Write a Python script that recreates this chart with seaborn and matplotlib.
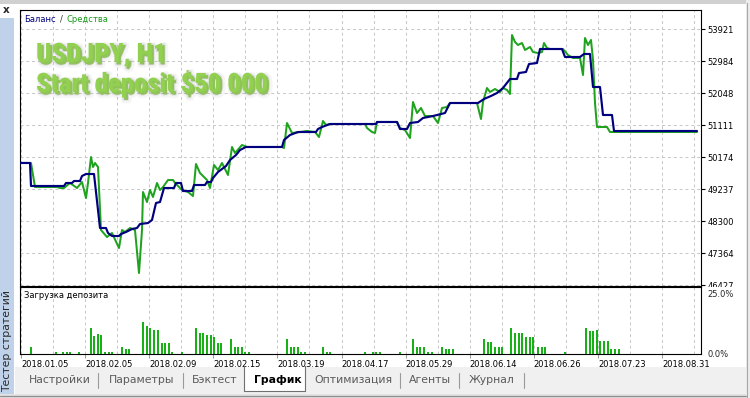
import numpy as np
import pandas as pd
import matplotlib
matplotlib.use("Agg")
import matplotlib.pyplot as plt
import seaborn as sns
from matplotlib import patheffects as pe
from matplotlib.patches import Rectangle
from matplotlib.lines import Line2D
from matplotlib.transforms import Bbox, TransformedBbox
from matplotlib import font_manager

# ---------------- data (time index = bar position on the tester's time axis) ----------------
balance_t = [0, 10, 11, 44, 46, 52, 54, 60, 62, 66,
             74, 80, 86, 88, 92, 99, 101, 106, 112, 117,
             120, 128, 132, 136, 140, 144, 154, 156, 161, 163,
             172, 174, 185, 187, 191, 193, 198, 206, 210, 216,
             220, 226, 262, 264, 270, 278, 296, 298, 302, 310,
             356, 357, 377, 380, 387, 390, 398, 403, 413, 425,
             430, 458, 464, 471, 477, 483, 490, 497, 499, 506,
             509, 517, 520, 542, 545, 560, 564, 570, 573, 580,
             583, 592, 594, 677]
balance = [50000, 50000, 49326, 49326, 49414, 49414, 49472, 49472, 49619, 49677,
           49677, 48096, 48096, 47950, 47862, 47862, 47920, 47979, 48067, 48096,
           48213, 48242, 48330, 48828, 48857, 49267, 49267, 49414, 49414, 49179,
           49179, 49355, 49355, 49443, 49443, 49560, 49736, 49911, 50087, 50233,
           50380, 50468, 50468, 50673, 50819, 50907, 50907, 50995, 51053, 51141,
           51141, 51200, 51200, 50995, 50995, 51170, 51200, 51317, 51375, 51463,
           51756, 51756, 51873, 51961, 52049, 52195, 52459, 52459, 52634, 52664,
           52898, 52927, 53337, 53337, 53103, 53103, 53191, 53191, 52224, 52224,
           51405, 51405, 50936, 50936]

equity_t = [0, 11, 15, 37, 40, 44, 50, 57, 62, 66,
            68, 71, 73, 75, 78, 81, 87, 92, 99, 102,
            105, 110, 115, 119, 122, 123, 127, 130, 133, 137,
            140, 143, 148, 153, 155, 162, 168, 173, 176, 180,
            187, 190, 194, 198, 202, 208, 212, 215, 222, 227,
            262, 264, 267, 272, 280, 287, 295, 299, 303, 306,
            310, 345, 347, 352, 355, 357, 377, 380, 385, 390,
            393, 397, 401, 405, 413, 418, 422, 427, 430, 457,
            461, 463, 467, 470, 475, 480, 483, 487, 490, 492,
            495, 498, 502, 505, 510, 513, 518, 522, 524, 527,
            530, 543, 548, 553, 560, 563, 565, 568, 571, 573,
            575, 577, 587, 590, 677]
equity = [50000, 50000, 49296, 49296, 49267, 49267, 49414, 49267, 49443, 48974,
          49414, 50175, 49882, 49999, 49882, 48037, 47832, 47950, 47510, 48037,
          47979, 48096, 48037, 46778, 48037, 49150, 48857, 49209, 49004, 49414,
          49209, 49296, 49501, 49501, 49414, 49209, 49150, 49033, 49970, 49706,
          49501, 49267, 49941, 49794, 49999, 49648, 50468, 50292, 50526, 50468,
          50468, 50438, 51170, 50878, 50907, 50936, 50907, 50760, 51229, 51112,
          51141, 51141, 51024, 50907, 50878, 51200, 51200, 51024, 50965, 50731,
          51785, 51463, 51610, 51375, 51375, 51170, 51610, 51639, 51756, 51756,
          51287, 51785, 52195, 52078, 52166, 52078, 52195, 52137, 52019, 53747,
          53542, 53454, 53513, 53308, 53396, 53249, 53220, 53249, 53513, 53366,
          53337, 53337, 53161, 53074, 53074, 52576, 53659, 53454, 53601, 53015,
          51756, 51053, 51053, 50907, 50907]

load_t = [11, 36, 43, 47, 50, 59, 71, 74, 77.5, 80.5,
          85, 88.5, 92, 102, 105.5, 109, 123, 126.5, 130, 133.5,
          138, 141.5, 145, 148.5, 152, 162, 176, 179.5, 183, 186.5,
          190.5, 194, 197.5, 201, 211, 214.5, 218, 221.5, 225, 229,
          267, 270.5, 274, 277.5, 281, 285, 303, 306.5, 310, 345,
          352.5, 356, 359.5, 380, 393, 396.5, 400, 404, 408, 412,
          422, 425.5, 429, 433, 464, 467.5, 471, 475, 478.5, 482,
          491, 494.5, 498.5, 502, 505.5, 509.5, 513, 518, 521.5, 525,
          545, 566, 569.5, 573, 576.5, 580, 584, 587.5, 591, 595,
          598.5]
load_pct = [2.8, 0.9, 0.9, 0.9, 0.9, 0.9, 9.7, 6.9, 7.7, 7.2,
            0.9, 0.9, 0.9, 2.8, 2.0, 2.0, 12.2, 10.5, 10.0, 9.2,
            9.2, 4.1, 4.1, 4.1, 0.9, 0.9, 9.7, 7.8, 7.8, 7.1,
            7.1, 6.6, 4.1, 4.1, 5.8, 2.8, 2.8, 2.8, 0.9, 0.9,
            5.8, 2.8, 2.8, 2.8, 0.9, 0.9, 2.8, 0.9, 0.9, 0.9,
            0.9, 0.9, 0.9, 0.9, 5.8, 2.8, 2.8, 2.8, 0.9, 0.9,
            2.8, 2.0, 2.0, 2.0, 5.8, 4.7, 4.7, 2.8, 2.8, 2.8,
            9.7, 7.8, 7.8, 7.8, 6.6, 6.6, 6.6, 2.8, 2.8, 2.8,
            0.9, 9.7, 8.8, 8.8, 9.0, 5.0, 5.0, 5.0, 2.0, 2.0,
            2.0]

y_tick_values = [46427, 47364, 48300, 49237, 50174, 51111, 52048, 52984, 53921]
load_tick_labels = ["0.0%", "25.0%"]
date_labels = ["2018.01.05", "2018.02.05", "2018.02.09", "2018.02.15", "2018.03.19",
               "2018.04.17", "2018.05.29", "2018.06.14", "2018.06.26", "2018.07.23",
               "2018.08.31"]
tab_labels = ["Настройки", "Параметры", "Бэктест", "График", "Оптимизация", "Агенты", "Журнал"]
legend_parts = ["Баланс", "/", "Средства"]

assert len(balance_t) == len(balance)
assert len(equity_t) == len(equity)
assert len(load_t) == len(load_pct)

# ---------------- style ----------------
BAL_COLOR = "#00007f"
EQ_COLOR = "#1fa31f"
BAR_COLOR = "#17b017"
GRID_COLOR = "#c6c6c6"
SMALL = 6.0
W, H = 750, 398

sns.set_style("white")
plt.rcParams["font.family"] = ["DejaVu Sans"]

fig = plt.figure(figsize=(W / 100, H / 100), dpi=100)
fig.patch.set_facecolor("white")


def fx(x):
    return x / W


def fy(y):
    return 1 - y / H


# ---------------- window chrome ----------------
def frect(x0, y0, x1, y1, **kw):
    fig.patches.append(Rectangle((fx(x0), fy(y1)), fx(x1) - fx(x0), fy(y0) - fy(y1),
                                 transform=fig.transFigure, **kw))


def fline(x0, y0, x1, y1, **kw):
    fig.lines.append(Line2D([fx(x0), fx(x1)], [fy(y0), fy(y1)], transform=fig.transFigure, **kw))


frect(0, 0, W, 3.5, facecolor="#d0d0d0", edgecolor="none", zorder=-2)
frect(746, 0, W, H, facecolor="#ececec", edgecolor="none", zorder=-2)
fline(746.5, 3, 746.5, H, color="#a8a8a8", lw=0.8, zorder=-1)
frect(0, 18, 14, 396, facecolor="#bfd2ea", edgecolor="none", zorder=-2)
fig.text(fx(6), fy(10), "x", fontsize=7.5, fontweight="bold", ha="center", va="center")
fig.text(fx(7.5), fy(341), "Тестер стратегий", rotation=90, fontsize=7.8,
         color="#2a2a2a", ha="center", va="center")

# tab bar
frect(15, 367, 746, 394, facecolor="#f0f0f0", edgecolor="none", zorder=-2)
frect(0, 394, 746, H, facecolor="#e2e2e2", edgecolor="none", zorder=-2)
fline(0, 395.5, 746, 395.5, color="#8e8e8e", lw=0.9, zorder=-1)
frect(244, 366, 305, 391, facecolor="white", edgecolor="none", zorder=-1)
fline(244, 366, 244, 391, color="#707070", lw=0.8)
fline(305, 366, 305, 391, color="#707070", lw=0.8)
fline(244, 391, 305, 391, color="#707070", lw=0.8)
for sx in [98, 183, 400, 459, 524]:
    fline(sx, 373, sx, 388, color="#9a9a9a", lw=0.8)
tab_x = [29, 109, 192, 254, 314, 409, 469]
for lbl, tx in zip(tab_labels, tab_x):
    sel = lbl == "График"
    fig.text(fx(tx), fy(380), lbl, fontsize=7.8, ha="left", va="center",
             color="black" if sel else "#5a5a5a", fontweight="bold" if sel else "normal")

# ---------------- axes ----------------
ax = fig.add_axes([fx(20), fy(286), fx(701) - fx(20), fy(10) - fy(286)])
ax2 = fig.add_axes([fx(20), fy(354), fx(701) - fx(20), fy(287) - fy(354)])
for a in (ax, ax2):
    a.set_facecolor("white")
    for s in a.spines.values():
        s.set_color("black")
        s.set_linewidth(0.8)
        s.set_visible(True)

grid_t = [1 + 32.05 * k for k in range(22)]

eq_df = pd.DataFrame({"t": equity_t, "v": equity})
bal_df = pd.DataFrame({"t": balance_t, "v": balance})
sns.lineplot(data=eq_df, x="t", y="v", ax=ax, color=EQ_COLOR, linewidth=1.45,
             estimator=None, sort=False, zorder=3)
sns.lineplot(data=bal_df, x="t", y="v", ax=ax, color=BAL_COLOR, linewidth=1.55,
             estimator=None, sort=False, zorder=4)

ax.set_xlim(0, 681)
ax.set_ylim(46398, 54479)
ax.set_xlabel("")
ax.set_ylabel("")
ax.set_xticks(grid_t)
ax.tick_params(axis="x", length=0, labelbottom=False, bottom=False)
ax.set_yticks(y_tick_values)
ax.set_yticklabels([str(v) for v in y_tick_values])
ax.yaxis.tick_right()
ax.tick_params(axis="y", length=3, width=0.8, pad=1.5, labelsize=SMALL, colors="black",
               direction="out", left=False, right=True, labelleft=False, labelright=True)
ax.grid(True, which="major", color=GRID_COLOR, linestyle=(0, (3, 3)), linewidth=0.7)
ax.set_axisbelow(True)

# deposit load bars
load_df = pd.DataFrame({"t": load_t, "p": load_pct})
min_gap = float(np.min(np.diff(np.sort(np.array(load_t)))))
sns.barplot(data=load_df, x="t", y="p", native_scale=True, width=2.0 / min_gap,
            color=BAR_COLOR, saturation=1, errorbar=None, ax=ax2, linewidth=0, zorder=3)
ax2.set_xlim(0, 681)
ax2.set_ylim(0, 25.3)
ax2.set_xlabel("")
ax2.set_ylabel("")
ax2.set_xticks(grid_t[0::2])
ax2.set_xticks(grid_t[1::2], minor=True)
ax2.set_xticklabels(date_labels, ha="left")
ax2.tick_params(axis="x", which="major", length=3, width=0.7, pad=1.5, labelsize=SMALL,
                bottom=True, direction="out", color="#9a9a9a", labelcolor="black")
ax2.tick_params(axis="x", which="minor", length=0, bottom=False)
ax2.set_yticks([])
ax2.grid(True, axis="x", which="both", color=GRID_COLOR, linestyle=(0, (3, 3)), linewidth=0.7)
ax2.grid(False, axis="y")
ax2.set_axisbelow(True)
# load scale labels (MetaTrader draws the top one just below the frame edge)
fig.text(fx(707), fy(294.5), load_tick_labels[1], fontsize=SMALL, ha="left", va="center")
fig.text(fx(707), fy(354.5), load_tick_labels[0], fontsize=SMALL, ha="left", va="center")

# clip the lowest equity-scale label at the chart bottom, as the terminal does
fig.canvas.draw()
renderer = fig.canvas.get_renderer()
clip_bb = TransformedBbox(Bbox([[0, fy(286.5)], [1, 1]]), fig.transFigure)
for lab in ax.get_yticklabels():
    if lab.get_text() == str(y_tick_values[0]):
        lab.set_clip_box(clip_bb)
        lab.set_clip_on(True)

# legend-like texts laid out one after another
legend_colors = ["#00007f", "#333333", "#1a9a1a"]
cur_x = 24.0
for part, col in zip(legend_parts, legend_colors):
    t = fig.text(fx(cur_x), fy(19), part, color=col, fontsize=SMALL, va="center", ha="left")
    cur_x += t.get_window_extent(renderer).width + 4
fig.text(fx(24), fy(296), "Загрузка депозита", color="black", fontsize=SMALL, va="center", ha="left")

# big title
avail = {f.name for f in font_manager.fontManager.ttflist}
title_family = next((f for f in ["Liberation Sans Narrow", "Roboto Condensed", "DejaVu Sans"]
                     if f in avail), "DejaVu Sans")
effects = [pe.Stroke(linewidth=5, foreground=(0.7, 0.7, 0.7, 0.12), offset=(1.8, -1.8)),
           pe.Stroke(linewidth=2.2, foreground=(0.55, 0.55, 0.55, 0.2), offset=(1.4, -1.4)),
           pe.Normal()]
t1 = fig.text(fx(36), fy(62), "USDJPY, H1", fontsize=20, fontweight="bold",
              family=title_family, fontstretch="condensed", color="#92d050",
              ha="left", va="baseline", path_effects=effects)
t2 = fig.text(fx(36), fy(92), "Start deposit $50 000", fontsize=20, fontweight="bold",
              family=title_family, fontstretch="condensed", color="#92d050",
              ha="left", va="baseline", path_effects=effects)
wpx = t2.get_window_extent(renderer).width
new_size = 20 * 231.0 / wpx
t1.set_fontsize(new_size)
t2.set_fontsize(new_size)

fig.savefig("out.png", dpi=100, facecolor=fig.get_facecolor())
